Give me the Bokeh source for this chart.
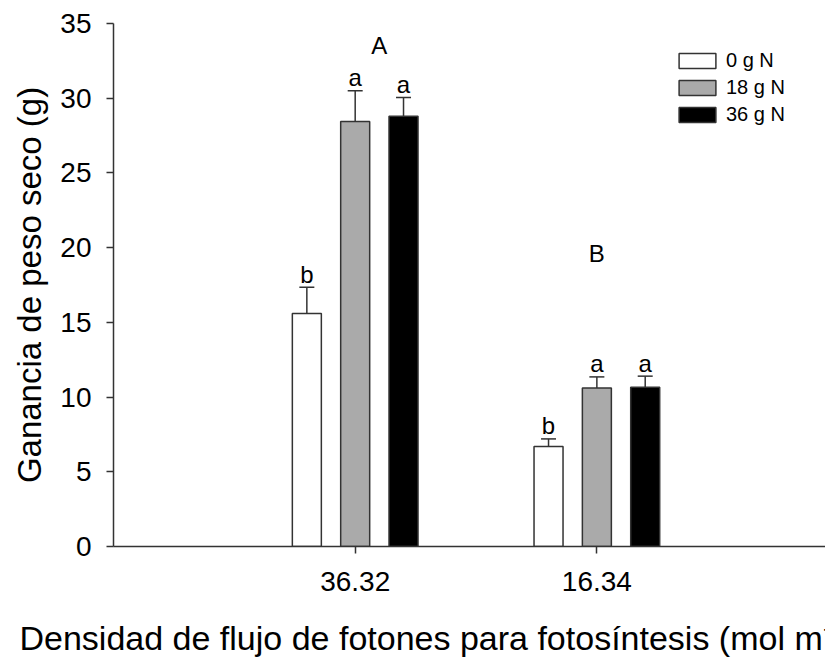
import numpy as np
from bokeh.plotting import figure
from bokeh.models import (ColumnDataSource, Range1d, FixedTicker, Whisker, TeeHead,
                          Label, Legend, LegendItem, Title)
from bokeh.core.properties import value
from bokeh.embed import file_html
from bokeh.resources import INLINE

# ---------------- data ----------------
categories = ["36.32", "16.34"]
series = ["0 g N", "18 g N", "36 g N"]
gain_0 = [15.6, 6.7]
gain_18 = [28.45, 10.6]
gain_36 = [28.8, 10.65]
err_0 = [1.75, 0.5]
err_18 = [2.05, 0.75]
err_36 = [1.25, 0.75]
letters_0 = ["b", "b"]
letters_18 = ["a", "a"]
letters_36 = ["a", "a"]
group_letters = ["A", "B"]
y_ticks = [0, 5, 10, 15, 20, 25, 30, 35]
x_title = "Densidad de flujo de fotones para fotosíntesis (mol m\u207b\u00b2 s\u207b\u00b9)"
y_title = "Ganancia de peso seco (g)"

# ---------------- style ----------------
FONT = "Liberation Sans"
EDGE = "#333333"
fills = ["#ffffff", "#aaaaaa", "#000000"]
offsets = [-0.2, 0.0, 0.2]
bar_w = 0.12

x_pos = np.arange(1, len(categories) + 1)

p = figure(width=825, height=667, output_backend="svg", toolbar_location=None,
           x_range=Range1d(0, 2.946), y_range=Range1d(0, 35),
           min_border_left=113, min_border_right=0, min_border_top=23,
           min_border_bottom=121)
p.outline_line_color = None
p.grid.visible = False
p.background_fill_color = "white"
p.border_fill_color = "white"

vals = [gain_0, gain_18, gain_36]
errs = [err_0, err_18, err_36]
lets = [letters_0, letters_18, letters_36]
renderers = []
for i, name in enumerate(series):
    xs = x_pos + offsets[i]
    top = np.array(vals[i])
    up = top + np.array(errs[i])
    src = ColumnDataSource(dict(x=xs, top=top, upper=up, lab=lets[i]))
    r = p.vbar(x="x", top="top", bottom=0, width=bar_w, source=src,
               fill_color=fills[i], line_color=EDGE, line_width=1.5)
    renderers.append(r)
    wh = Whisker(base="x", lower="top", upper="upper", source=src, dimension="height",
                 line_color=EDGE, line_width=1.5, level="overlay",
                 upper_head=TeeHead(size=15, line_color=EDGE, line_width=1.5),
                 lower_head=None)
    p.add_layout(wh)
    p.text(x="x", y="upper", text="lab", source=src, text_align="center",
           text_baseline="alphabetic", y_offset=-13, text_font=value(FONT),
           text_font_size="24px", text_color="black")

# group letters
grp_pos = [(1.1, 33.5), (2.0, 19.6)]
for (gx, gy), g in zip(grp_pos, group_letters):
    p.add_layout(Label(x=gx, y=gy, text=g, text_align="center", text_baseline="middle",
                       text_font=FONT, text_font_size="24px", text_color="black"))

# axes
for ax in (p.xaxis, p.yaxis):
    ax.axis_line_color = EDGE
    ax.axis_line_width = 1.5
    ax.major_tick_line_color = EDGE
    ax.major_tick_line_width = 1.5
    ax.major_tick_out = 7
    ax.major_tick_in = 0
    ax.minor_tick_line_color = None
    ax.major_label_text_font = FONT
    ax.major_label_text_font_size = "28px"
    ax.major_label_text_color = "black"

p.xaxis.ticker = FixedTicker(ticks=list(x_pos))
p.xaxis.major_label_overrides = {int(x): c for x, c in zip(x_pos, categories)}
p.xaxis.major_label_standoff = 18
# blank spacer label: pushes the title below down to its place
p.xaxis.axis_label = "\u00a0"
p.xaxis.axis_label_text_font_size = "8px"
p.xaxis.axis_label_standoff = 11

p.yaxis.ticker = FixedTicker(ticks=y_ticks)
p.yaxis.major_label_standoff = 15
p.yaxis.axis_label = y_title
p.yaxis.axis_label_text_font = FONT
p.yaxis.axis_label_text_font_size = "33px"
p.yaxis.axis_label_text_font_style = "normal"
p.yaxis.axis_label_text_color = "black"
p.yaxis.axis_label_standoff = 9

# x title (runs past the right edge, as in the original)
p.add_layout(Title(text=x_title, align="left", offset=-94, standoff=0,
                   text_font=FONT, text_font_size="34px", text_font_style="normal",
                   text_color="black"), "below")

legend = Legend(items=[LegendItem(label=s, renderers=[r]) for s, r in zip(series, renderers)],
                location=(561, 420), glyph_width=46, glyph_height=19, label_standoff=6,
                spacing=4, padding=0, margin=0, border_line_color=None,
                background_fill_alpha=0, label_text_font=FONT, label_text_font_size="20px",
                label_height=19, label_text_color="black")
p.add_layout(legend)

open("out.html", "w").write(file_html(p, INLINE))
